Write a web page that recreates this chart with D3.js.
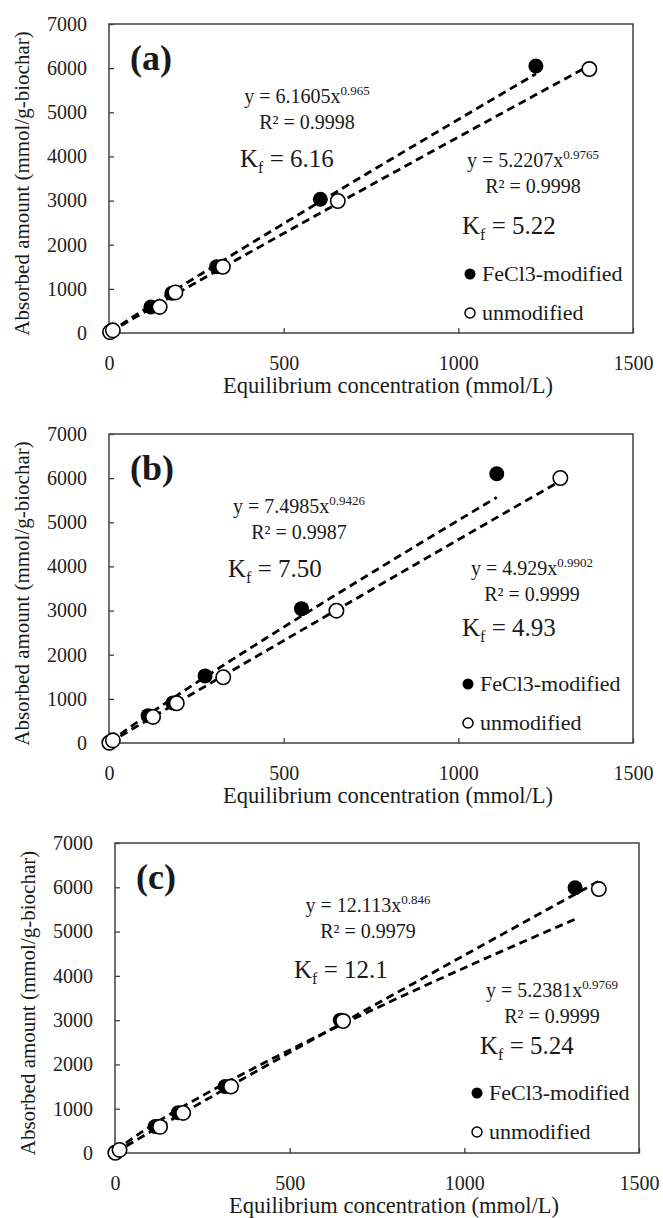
<!DOCTYPE html>
<html>
<head>
<meta charset="utf-8">
<script src="https://cdn.jsdelivr.net/npm/d3@7"></script>
<style>
  body { margin: 0; background: #fff; }
</style>
</head>
<body>
<svg id="chart"></svg>
<script>
// DATA

var xTicks = [0, 500, 1000, 1500];
var yTicks = [0, 1000, 2000, 3000, 4000, 5000, 6000, 7000];
var seriesNames = ["FeCl3-modified", "unmodified"];
var panelLabels = ["(a)", "(b)", "(c)"];

// (a)
var feAx = [3, 120, 180, 308, 605, 1222];
var feAy = [20, 590, 900, 1500, 3030, 6050];
var unAx = [3, 11, 145, 190, 326, 655, 1375];
var unAy = [20, 60, 590, 920, 1500, 2990, 5980];

// (b)
var feBx = [3, 112, 183, 275, 551, 1110];
var feBy = [20, 620, 906, 1520, 3043, 6100];
var unBx = [1, 11, 126, 194, 327, 651, 1292];
var unBy = [5, 60, 590, 900, 1490, 2998, 6003];

// (c)
var feCx = [3, 115, 181, 315, 645, 1317];
var feCy = [20, 600, 910, 1500, 3000, 5990];
var unCx = [1, 13, 129, 195, 332, 653, 1385];
var unCy = [5, 70, 590, 905, 1500, 2980, 5960];

// power fits y = k x^n  [FeCl3, unmodified]
var fitK = [[6.1605, 5.2207], [7.4985, 4.929], [12.113, 5.2381]];
var fitN = [[0.965, 0.9765], [0.9426, 0.9902], [0.846, 0.9769]];
var fitR2 = [["0.9998", "0.9998"], ["0.9987", "0.9999"], ["0.9979", "0.9999"]];
var fitKtext = [["6.1605", "5.2207"], ["7.4985", "4.929"], ["12.113", "5.2381"]];
var fitNtext = [["0.965", "0.9765"], ["0.9426", "0.9902"], ["0.846", "0.9769"]];
var kfLabels = [["6.16", "5.22"], ["7.50", "4.93"], ["12.1", "5.24"]];

// LAYOUT

var width = 663,
	height = 1218,
	plotW = 524,
	font = '"Liberation Serif", "DejaVu Serif", "Times New Roman", serif';

var panels = [
	{ left: 109, top: 24, h: 309,
	  eq: [[198, 79], [424, 143]], kf: [[131, 143], [353, 210]], leg: 361,
	  fe: [feAx, feAy], un: [unAx, unAy] },
	{ left: 109, top: 434, h: 309,
	  eq: [[190, 79], [423, 141]], kf: [[119, 143], [353, 202]], leg: 359,
	  fe: [feBx, feBy], un: [unBx, unBy] },
	{ left: 115, top: 843, h: 310,
	  eq: [[253, 69], [437, 154]], kf: [[179, 135], [365, 211]], leg: 362,
	  fe: [feCx, feCy], un: [unCx, unCy] }
];

var svg = d3.select("#chart")
	.attr('width', width)
	.attr('height', height)
	.attr('font-family', font)
	.style('font-family', font)
	.style('background', '#fff');

function zip(xs, ys) {
	return xs.map(function(x, i) { return { x: x, y: ys[i] }; });
}

function txt(sel) {
	return sel.append('text')
		.attr('font-family', font)
		.style('font-family', font)
		.attr('fill', '#1a1a1a');
}

panels.forEach(function(p, pi) {
	var g = svg.append('g')
		.attr('transform', 'translate(' + p.left + ',' + p.top + ')');

	var x = d3.scaleLinear().domain([0, 1500]).range([0, plotW]);
	var y = d3.scaleLinear().domain([0, 7000]).range([p.h, 0]);

	// axes, ticks inward
	var xAxis = d3.axisBottom(x).tickValues(xTicks).tickFormat(d3.format('d'))
		.tickSizeInner(-5).tickSizeOuter(0).tickPadding(23);
	var yAxis = d3.axisLeft(y).tickValues(yTicks).tickFormat(d3.format('d'))
		.tickSizeInner(-5).tickSizeOuter(0).tickPadding(22);

	var gx = g.append('g').attr('transform', 'translate(0,' + p.h + ')').call(xAxis);
	var gy = g.append('g').call(yAxis);
	[gx, gy].forEach(function(a) {
		a.attr('font-family', font);
		a.select('.domain').remove();
		a.selectAll('line').attr('stroke', '#404040').attr('stroke-width', 1.3);
		a.selectAll('text')
			.attr('font-family', font)
			.style('font-family', font)
			.style('font-size', '20px')
			.attr('fill', '#222');
	});

	// frame
	g.append('rect')
		.attr('width', plotW)
		.attr('height', p.h)
		.attr('fill', 'none')
		.attr('stroke', '#404040')
		.attr('stroke-width', 1.5);

	// axis titles
	txt(g)
		.attr('x', 279)
		.attr('y', p.h + 60)
		.attr('text-anchor', 'middle')
		.style('font-size', '22.5px')
		.text('Equilibrium concentration (mmol/L)');

	txt(g)
		.attr('transform', 'translate(-80,' + (p.h / 2 + 5) + ') rotate(-90)')
		.attr('text-anchor', 'middle')
		.style('font-size', '21px')
		.text('Absorbed amount (mmol/g-biochar)');

	// panel label
	txt(g)
		.attr('x', 21)
		.attr('y', 46)
		.style('font-size', '36px')
		.style('font-weight', 'bold')
		.text(panelLabels[pi]);

	// trend lines
	var line = d3.line()
		.x(function(d) { return x(d[0]); })
		.y(function(d) { return y(d[1]); });

	[p.fe, p.un].forEach(function(s, si) {
		var x0 = d3.min(s[0]), x1 = d3.max(s[0]);
		var pts = d3.range(0, 61).map(function(i) {
			var xv = x0 + (x1 - x0) * i / 60;
			return [xv, fitK[pi][si] * Math.pow(xv, fitN[pi][si])];
		});
		g.append('path')
			.attr('d', line(pts))
			.attr('fill', 'none')
			.attr('stroke', '#000')
			.attr('stroke-width', 2.8)
			.attr('stroke-dasharray', '8,5');
	});

	// markers: filled first, open on top
	g.selectAll('circle.fe').data(zip(p.fe[0], p.fe[1]))
		.enter().append('circle')
		.attr('class', 'fe')
		.attr('cx', function(d) { return x(d.x); })
		.attr('cy', function(d) { return y(d.y); })
		.attr('r', 7.5)
		.attr('fill', '#000');

	g.selectAll('circle.un').data(zip(p.un[0], p.un[1]))
		.enter().append('circle')
		.attr('class', 'un')
		.attr('cx', function(d) { return x(d.x); })
		.attr('cy', function(d) { return y(d.y); })
		.attr('r', 7.2)
		.attr('fill', '#fff')
		.attr('stroke', '#000')
		.attr('stroke-width', 1.6);

	// fit equations
	[0, 1].forEach(function(si) {
		var eq = txt(g)
			.attr('x', p.eq[si][0])
			.attr('y', p.eq[si][1])
			.attr('text-anchor', 'middle')
			.style('font-size', '20px');
		eq.append('tspan').text('y = ' + fitKtext[pi][si] + 'x');
		eq.append('tspan').attr('dy', -8).style('font-size', '13px').text(fitNtext[pi][si]);

		txt(g)
			.attr('x', p.eq[si][0])
			.attr('y', p.eq[si][1] + 26)
			.attr('text-anchor', 'middle')
			.style('font-size', '20px')
			.text('R\u00b2 = ' + fitR2[pi][si]);

		var kf = txt(g)
			.attr('x', p.kf[si][0])
			.attr('y', p.kf[si][1])
			.style('font-size', '25px');
		kf.append('tspan').text('K');
		kf.append('tspan').attr('dy', 6).style('font-size', '16px').text('f');
		kf.append('tspan').attr('dy', -6).text(' = ' + kfLabels[pi][si]);
	});

	// legend
	seriesNames.forEach(function(name, si) {
		var ly = 250 + si * 39;
		g.append('circle')
			.attr('cx', p.leg)
			.attr('cy', ly)
			.attr('r', si === 0 ? 5.5 : 5)
			.attr('fill', si === 0 ? '#000' : '#fff')
			.attr('stroke', '#000')
			.attr('stroke-width', si === 0 ? 0 : 1.5);
		txt(g)
			.attr('x', p.leg + 12)
			.attr('y', ly + 7)
			.style('font-size', '22px')
			.text(name);
	});
});
</script>
</body>
</html>
